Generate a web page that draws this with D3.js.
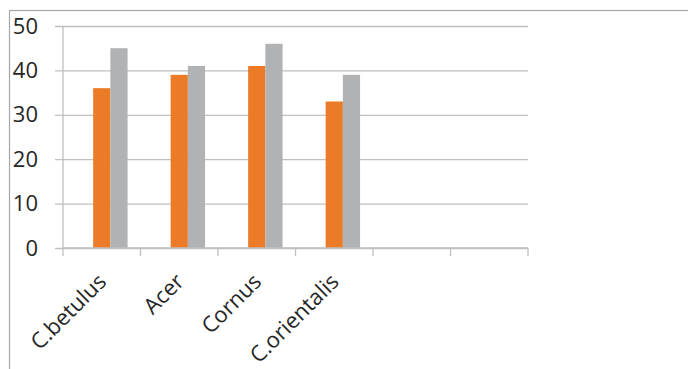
<!DOCTYPE html>
<html>
<head>
<meta charset="utf-8">
<script src="https://cdn.jsdelivr.net/npm/d3@7"></script>
<style>
  html, body { margin: 0; padding: 0; background: #fff; }
  svg { display: block; }
  text { font-family: "Open Sans", sans-serif; fill: #262626; }
</style>
</head>
<body>
<script>
// Species on the category axis; two empty slots follow them
const categories = ["C.betulus", "Acer", "Cornus", "C.orientalis", "", " "];
// Three series per group; the first one carries no values
const seriesNames = ["Series1", "Series2", "Series3"];
const series1 = [null, null, null, null, null, null];
const series2 = [36, 39, 41, 33, null, null];
const series3 = [45, 41, 46, 39, null, null];
const yTicks = [0, 10, 20, 30, 40, 50];

const seriesColors = { Series1: "none", Series2: "#eb7b27", Series3: "#b1b2b4" };
const seriesValues = { Series1: series1, Series2: series2, Series3: series3 };

const W = 688, H = 369;
const margin = { left: 63, right: 160, top: 26, bottom: 121 };
const plotW = W - margin.left - margin.right;
const plotH = H - margin.top - margin.bottom;

const svg = d3.select("body").append("svg").attr("width", W).attr("height", H);

// chart frame (continues past the right and bottom edges)
svg.append("rect")
  .attr("x", 9.5).attr("y", 10.5)
  .attr("width", W + 20).attr("height", H + 20)
  .attr("fill", "none").attr("stroke", "#a6a6a6").attr("stroke-width", 1.2);

const g = svg.append("g").attr("transform", `translate(${margin.left},${margin.top})`);

const x0 = d3.scaleBand().domain(categories).range([0, plotW]).paddingInner(0).paddingOuter(0);
// gap width 150% of a bar: slot = 3 bars + 1.5 bars
const gapFrac = 1.5 / 4.5;
const x1 = d3.scaleBand().domain(seriesNames)
  .range([x0.bandwidth() * gapFrac / 2, x0.bandwidth() * (1 - gapFrac / 2)]);
const y = d3.scaleLinear().domain([0, 50]).range([plotH, 0]);

// horizontal gridlines with small ticks to the left of the axis
const yAxis = d3.axisLeft(y).tickValues(yTicks).tickSize(plotW + 8).tickFormat(d => d);
const yg = g.append("g").attr("transform", `translate(${plotW},0)`).call(yAxis);
yg.select(".domain").remove();
yg.selectAll(".tick line").attr("stroke", "#bfbfbf").attr("stroke-width", 1.3);
yg.selectAll(".tick text")
  .attr("x", -(plotW + 25))
  .style("font-size", "22px").style("font-family", "'Open Sans', sans-serif").attr("fill", "#262626");

// vertical axis line
g.append("line").attr("x1", 0).attr("x2", 0).attr("y1", 0).attr("y2", plotH)
  .attr("stroke", "#bfbfbf").attr("stroke-width", 1.3);

// bars
const bars = g.append("g");
categories.forEach((c, i) => {
  seriesNames.forEach(s => {
    const v = seriesValues[s][i];
    if (v == null) return;
    bars.append("rect")
      .attr("x", x0(c) + x1(s))
      .attr("y", y(v))
      .attr("width", x1.bandwidth())
      .attr("height", y(0) - y(v))
      .attr("fill", seriesColors[s]);
  });
});

// category axis: ticks at slot boundaries
const boundaries = d3.range(categories.length + 1).map(i => i * x0.step());
const xg = g.append("g").attr("transform", `translate(0,${plotH})`);
xg.append("line").attr("x1", 0).attr("x2", plotW).attr("y1", 0).attr("y2", 0)
  .attr("stroke", "#bfbfbf").attr("stroke-width", 1.3);
xg.selectAll("line.tk").data(boundaries).join("line").attr("class", "tk")
  .attr("x1", d => d).attr("x2", d => d).attr("y1", 0).attr("y2", 8)
  .attr("stroke", "#bfbfbf").attr("stroke-width", 1.3);

xg.selectAll("text.cat").data(categories.filter(c => c.trim() !== "")).join("text")
  .attr("class", "cat")
  .attr("text-anchor", "end")
  .attr("transform", d => `translate(${x0(d) + x0.bandwidth() / 2 + 6},${35}) rotate(-45)`)
  .style("font-size", "22px")
  .text(d => d);
</script>
</body>
</html>
